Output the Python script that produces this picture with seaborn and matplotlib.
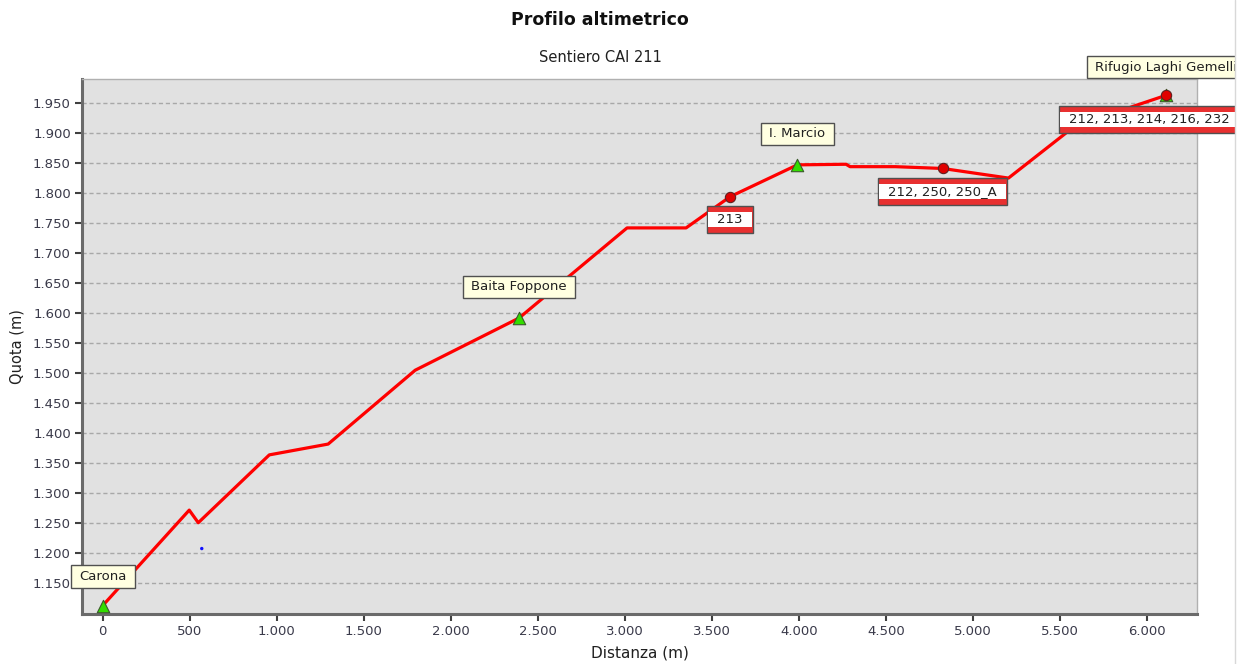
import numpy as np
import pandas as pd
import matplotlib
matplotlib.use("Agg")
import matplotlib.pyplot as plt
import seaborn as sns
from matplotlib.path import Path
from matplotlib.ticker import FuncFormatter
from matplotlib.lines import Line2D
from matplotlib.patches import Rectangle

# ---------------- data ----------------
dist = [0, 497, 549, 957, 1295, 1795, 2392, 3012, 3351, 3604, 3990, 4270, 4293, 4552, 4825, 5203, 5586, 6110]
elev = [1113, 1272, 1251, 1364, 1382, 1505, 1592, 1742, 1742, 1794, 1847, 1848, 1844, 1844, 1841, 1825, 1912, 1963]

waypoint_names = ["Carona", "Baita Foppone", "I. Marcio", "Rifugio Laghi Gemelli"]
waypoint_dist = [0, 2392, 3990, 6110]
waypoint_elev = [1113, 1592, 1847, 1963]

crossing_names = ["213", "212, 250, 250_A", "212, 213, 214, 216, 232"]
crossing_dist = [3604, 4825, 6110]
crossing_elev = [1794, 1841, 1963]

stray_dist = [569]
stray_elev = [1208]

title = "Profilo altimetrico"
subtitle = "Sentiero CAI 211"
xlabel = "Distanza (m)"
ylabel = "Quota (m)"

# ---------------- style ----------------
sns.set_theme(style="white")
plt.rcParams["font.family"] = ["DejaVu Sans"]

W, H = 1240, 664
fig = plt.figure(figsize=(W / 100, H / 100), dpi=100)
fig.patch.set_facecolor("white")
L, R, T, B = 82, 1197, 79, 614
ax = fig.add_axes([L / W, 1 - B / H, (R - L) / W, (B - T) / H])
ax.set_facecolor("#E1E1E1")

profile = pd.DataFrame({"dist": dist, "elev": elev})
sns.lineplot(data=profile, x="dist", y="elev", ax=ax, color="#FF0000",
             linewidth=2.3, sort=False, zorder=3)

sns.scatterplot(x=stray_dist, y=stray_elev, ax=ax, color="#1010FF", s=6,
                edgecolor="none", zorder=3)

wp = pd.DataFrame({"dist": waypoint_dist, "elev": waypoint_elev})
sns.scatterplot(data=wp, x="dist", y="elev", ax=ax, marker="^", s=80,
                color="#33DD00", edgecolor="#3A5A2A", linewidth=0.8, zorder=5)

cr = pd.DataFrame({"dist": crossing_dist, "elev": crossing_elev})
sns.scatterplot(data=cr, x="dist", y="elev", ax=ax, marker="o", s=55,
                color="#E00000", edgecolor="#602020", linewidth=0.8, zorder=6)

ax.set_xlim(-119, 6286)
ax.set_ylim(1099, 1990)
fmt = FuncFormatter(lambda v, p: f"{v:,.0f}".replace(",", "."))
ax.xaxis.set_major_formatter(fmt)
ax.yaxis.set_major_formatter(fmt)
ax.set_yticks(np.arange(1150, 1951, 50))
ax.set_xticks(np.arange(0, 6001, 500))

ax.grid(axis="y", color="#A8A8A8", linestyle=(0, (3, 2)), linewidth=1.0)
ax.grid(axis="x", visible=False)
ax.set_axisbelow(True)

ax.tick_params(axis="both", direction="out", length=5, width=1.5,
               color="#404040", labelsize=9.5, labelcolor="#3A3A4A", pad=3,
               bottom=True, left=True)

for side in ["left", "bottom"]:
    ax.spines[side].set_color("#6A6A6A")
    ax.spines[side].set_linewidth(2.2)
for side in ["top", "right"]:
    ax.spines[side].set_color("#B0B0B0")
    ax.spines[side].set_linewidth(1.0)

ax.set_xlabel(xlabel, fontsize=11, color="#202020", labelpad=5)
ax.set_ylabel(ylabel, fontsize=10.5, color="#202020", labelpad=6)

fig.text(600 / W, 1 - 20 / H, title, ha="center", va="center",
         fontsize=12.5, fontweight="bold", color="#101010")
fig.text(600 / W, 1 - 58 / H, subtitle, ha="center", va="center",
         fontsize=10.5, color="#202020")


def make_box(padx, pady):
    def box(x0, y0, width, height, mutation_size):
        px = padx * mutation_size
        py = pady * mutation_size
        x0 -= px
        y0 -= py
        w = width + 2 * px
        h = height + 2 * py
        return Path([(x0, y0), (x0 + w, y0), (x0 + w, y0 + h), (x0, y0 + h), (x0, y0)],
                    closed=True)
    return box


# waypoint labels (above markers)
wp_offsets = [29, 31, 31, 28]
for name, x, y, oy in zip(waypoint_names, waypoint_dist, waypoint_elev, wp_offsets):
    ax.annotate(name, xy=(x, y), xytext=(0, oy), textcoords="offset pixels",
                ha="center", va="center", fontsize=9.5, color="#202020",
                annotation_clip=False, zorder=8,
                bbox=dict(boxstyle=make_box(0.62, 0.36), fc="#FFFFE1",
                          ec="#505050", lw=1.0))

# crossing labels (below markers), red-white-red box
for i, (name, x, y) in enumerate(zip(crossing_names, crossing_dist, crossing_elev)):
    off = (0, -23)
    ha = "center"
    if i == len(crossing_names) - 1:
        off = (-97, -24)
        ha = "left"
    ax.annotate(name, xy=(x, y), xytext=off, textcoords="offset pixels",
                ha=ha, va="center", fontsize=9.5, color=(0, 0, 0, 0),
                annotation_clip=False, zorder=8,
                bbox=dict(boxstyle=make_box(0.78, 0.52), fc="#E83030",
                          ec="#505050", lw=1.0))
    ax.annotate(name, xy=(x, y), xytext=off, textcoords="offset pixels",
                ha=ha, va="center", fontsize=9.5, color="#202020",
                annotation_clip=False, zorder=9,
                bbox=dict(boxstyle=make_box(0.68, 0.07), fc="white",
                          ec="none", lw=0))

# right clipping edge of the original screenshot
fig.add_artist(Rectangle((1235 / W, 0), 5 / W, 1, transform=fig.transFigure,
                         fc="white", ec="none", zorder=20))
fig.add_artist(Line2D([1235 / W, 1235 / W], [0, 1], transform=fig.transFigure,
                      color="#D8D8D8", lw=1.0, zorder=21))

fig.savefig("out.png", dpi=100)
